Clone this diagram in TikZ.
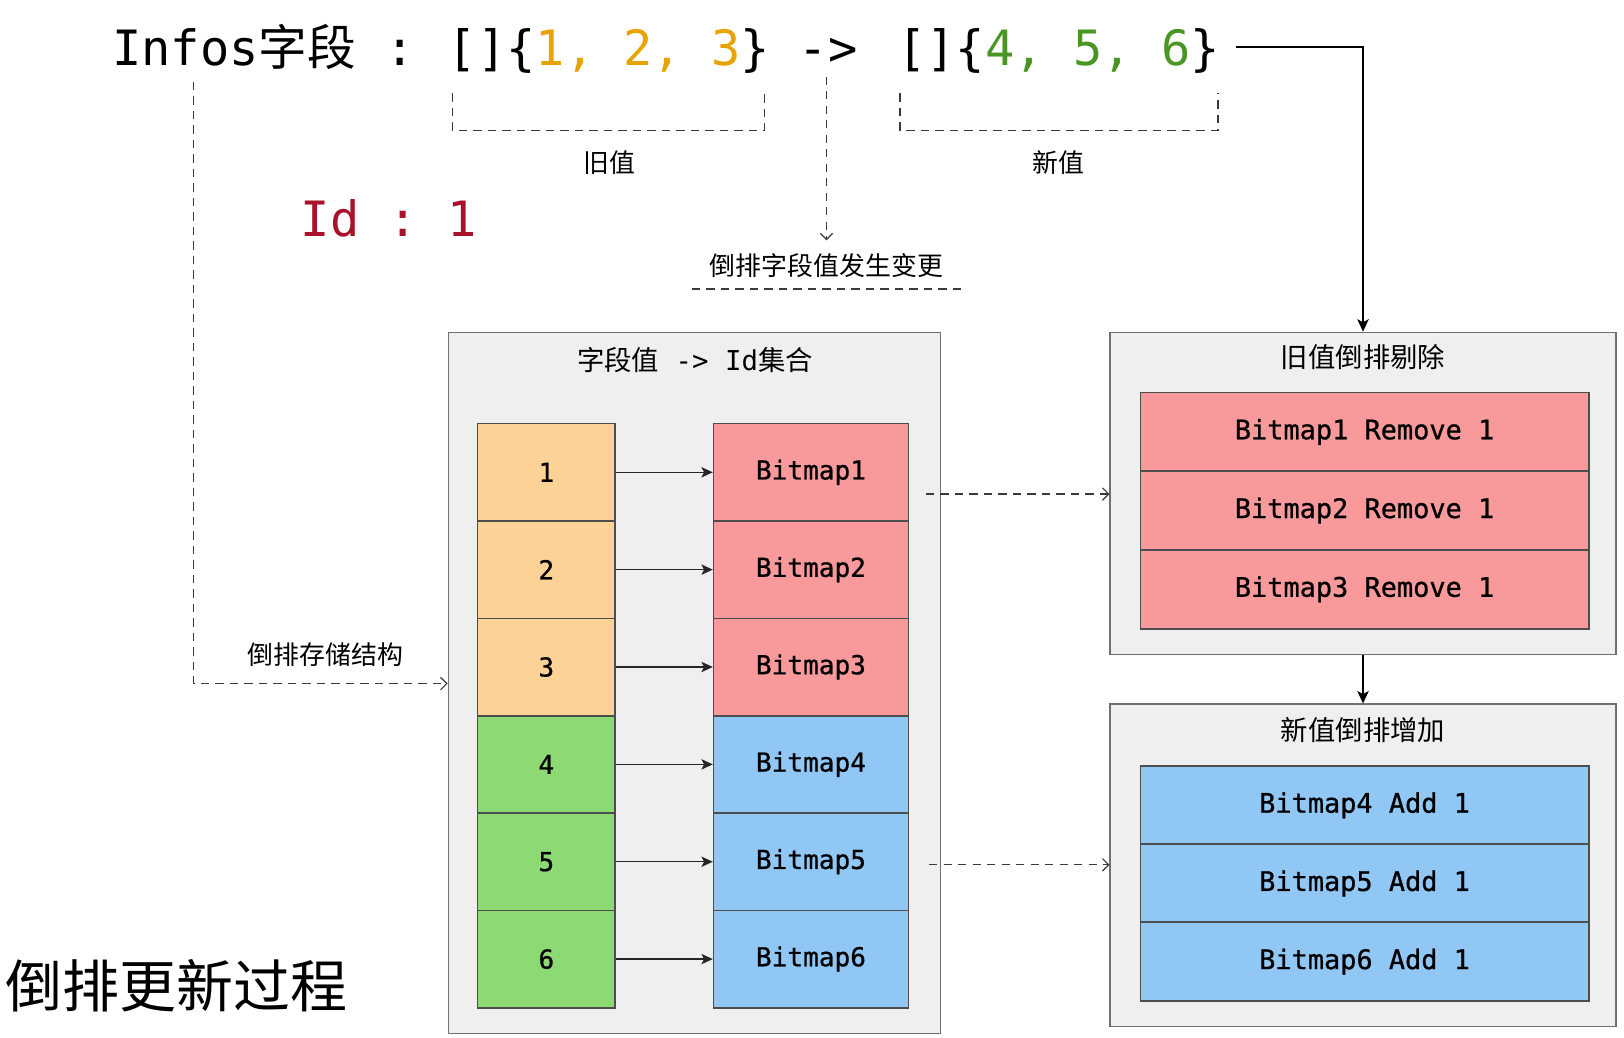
\documentclass[tikz,border=0pt]{standalone}
\usepackage{fontspec}
\setmonofont{DejaVu Sans Mono}
\newfontfamily\cellmono[FakeBold=0.8]{DejaVu Sans Mono}
\newfontfamily\cjk{Noto Sans CJK SC}
\usetikzlibrary{arrows.meta,fit}
\definecolor{panelfill}{HTML}{EFEFEF}
\definecolor{panelline}{HTML}{707070}
\definecolor{cellline}{HTML}{4D4D4D}
\definecolor{ofill}{HTML}{FDD296}
\definecolor{rfill}{HTML}{F8999C}
\definecolor{gfill}{HTML}{8DD974}
\definecolor{bfill}{HTML}{91C7F5}
\definecolor{numorange}{HTML}{E8A300}
\definecolor{numgreen}{HTML}{4A9624}
\definecolor{idred}{HTML}{A8122A}
\definecolor{dashc}{HTML}{3A3A3A}
\frenchspacing
\begin{document}
\begin{tikzpicture}[x=0.5pt,y=-0.5pt,
  bigmono/.style={font=\fontsize{23.5}{28}\selectfont\ttfamily, inner sep=0, anchor=base west},
  lbl/.style={font=\fontsize{12.5}{15}\selectfont\cjk, inner sep=0},
  ptitle/.style={font=\fontsize{13.2}{16}\selectfont\cjk, inner sep=0},
  panel/.style={draw=panelline, fill=panelfill, line width=0.8pt, inner sep=0},
  cell/.style={draw=cellline, line width=0.8pt, inner sep=0, font=\fontsize{12.6}{15}\selectfont\cellmono},
  keycell/.style={cell, minimum width=66.5pt, minimum height=47pt},
  bmcell/.style={cell, minimum width=94pt, minimum height=47pt},
  wcell/.style={cell, minimum width=216.5pt, minimum height=38pt, font=\fontsize{13}{16}\selectfont\cellmono},
  dline/.style={draw=dashc, line width=0.55pt, dash pattern=on 4pt off 3pt},
  opentip/.style={-{Straight Barb[length=3pt,width=6pt]}},
  solidarrow/.style={draw=black!85, line width=0.7pt, -{Stealth[length=5.5pt,width=5pt,inset=1.3pt]}},
  mainarrow/.style={draw=black, line width=0.9pt, -{Stealth[length=6pt,width=5.5pt,inset=1.5pt]}}
]
\useasboundingbox (0,0) rectangle (1568,1002);

% top line
\node[bigmono] (infos) at (108,63) {Infos{\cjk 字段} :};
\node[bigmono] (oldv) at (432,63) {[]\{{\color{numorange}1, 2, 3}\}};
\node[bigmono] (arrowtxt) at (771,63) {->};
\node[bigmono] (newv) at (866,63) {[]\{{\color{numgreen}4, 5, 6}\}};
\node[bigmono, text=idred] (idv) at (290,228) {Id : 1};

% brackets
\draw[dline] (437,90) -- (437,126) -- (738,126) -- (738,90);
\draw[dline] (869,90) -- (869,126) -- (1176,126) -- (1176,90);
\node[lbl] (oldlbl) at (588,157) {旧值};
\node[lbl] (newlbl) at (1022,157) {新值};

% change label
\node[lbl] (chg) at (798,256) {倒排字段值发生变更};
\draw[dline] (668,279) -- (928,279);
\coordinate (chgs) at (798,74);
\coordinate (chgt) at (798,232);
\draw[dline, opentip] (chgs) -- (chgt);

% panels
\node[panel, fit={(433,321)(908,998)}] (lp) {};
\node[panel, fit={(1072,321)(1560,632)}] (rp1) {};
\node[panel, fit={(1072,680)(1560,991)}] (rp2) {};
\node[ptitle] (lt) at (671,348) {字段值{\ttfamily\ ->\ Id}集合};
\node[ptitle] (rt1) at (1316,345) {旧值倒排剔除};
\node[ptitle] (rt2) at (1316,705) {新值倒排增加};

% left columns
\node[keycell, fill=ofill] (k1) at (527.5,456) {1};
\node[keycell, fill=ofill] (k2) at (527.5,550) {2};
\node[keycell, fill=ofill] (k3) at (527.5,644) {3};
\node[keycell, fill=gfill] (k4) at (527.5,738) {4};
\node[keycell, fill=gfill] (k5) at (527.5,832) {5};
\node[keycell, fill=gfill] (k6) at (527.5,926) {6};
\node[bmcell, fill=rfill] (b1) at (783,456) {Bitmap1};
\node[bmcell, fill=rfill] (b2) at (783,550) {Bitmap2};
\node[bmcell, fill=rfill] (b3) at (783,644) {Bitmap3};
\node[bmcell, fill=bfill] (b4) at (783,738) {Bitmap4};
\node[bmcell, fill=bfill] (b5) at (783,832) {Bitmap5};
\node[bmcell, fill=bfill] (b6) at (783,926) {Bitmap6};
\foreach \i in {1,...,6}{
  \draw[solidarrow] (k\i.east) -- (b\i.west);
}

% right rows
\node[wcell, fill=rfill] (r1) at (1317.5,417) {Bitmap1 Remove 1};
\node[wcell, fill=rfill] (r2) at (1317.5,493) {Bitmap2 Remove 1};
\node[wcell, fill=rfill] (r3) at (1317.5,569) {Bitmap3 Remove 1};
\node[wcell, fill=bfill] (a1) at (1317.5,777.5) {Bitmap4 Add 1};
\node[wcell, fill=bfill] (a2) at (1317.5,853) {Bitmap5 Add 1};
\node[wcell, fill=bfill] (a3) at (1317.5,928.5) {Bitmap6 Add 1};

% storage label and long dashed connector
\node[lbl] (store) at (314,632) {倒排存储结构};
\coordinate (ls) at (187,79);
\draw[dline, opentip] (ls) |- (lp.west |- 0,660);

% dashed to right panels
\coordinate (d1s) at (894,477);
\coordinate (d2s) at (897,835);
\draw[dline, opentip] (d1s) -- (rp1.west |- d1s);
\draw[dline, opentip] (d2s) -- (rp2.west |- d2s);

% main solid arrows
\coordinate (nvend) at (1193,45);
\draw[mainarrow] (nvend) -| (rp1.north);
\draw[mainarrow] (rp1.south) -- (rp2.north);

% big title
\node[font=\fontsize{27.5}{33}\selectfont\cjk, inner sep=0] (maint) at (170,952) {倒排更新过程};
\end{tikzpicture}
\end{document}
